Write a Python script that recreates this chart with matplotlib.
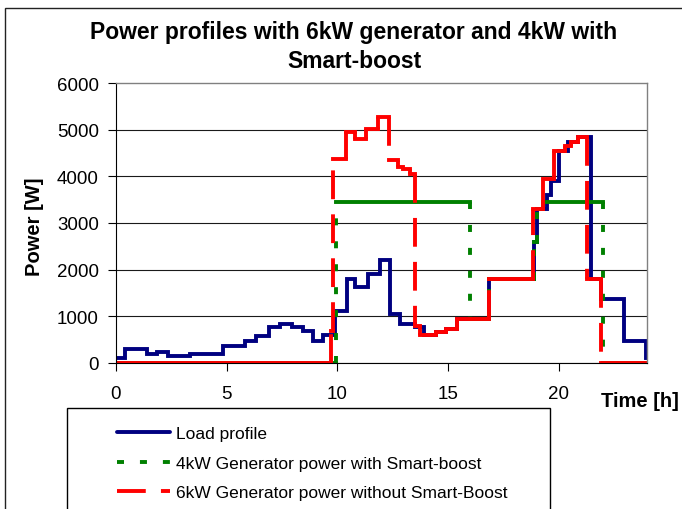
import matplotlib
matplotlib.use("Agg")
import matplotlib.pyplot as plt
from matplotlib.patches import Rectangle
from matplotlib.collections import LineCollection
from matplotlib.lines import Line2D

plt.rcParams['font.family'] = ['Liberation Sans', 'DejaVu Sans']

# load profile, change points (hour, W)
load_h = [0.0, 0.4, 1.4, 1.85, 2.35, 3.35, 4.85, 5.85, 6.35, 6.9, 7.4, 7.95, 8.45, 8.9, 9.35,
          9.9, 10.45, 10.8, 11.4, 11.95, 12.4, 12.85, 13.5, 13.9, 14.45, 14.9, 15.4, 16.85,
          18.9, 19.05, 19.5, 19.65, 20.0, 20.45, 20.9, 21.45, 21.9, 22.95, 23.95, 24.0]
load_w = [100, 310, 200, 230, 140, 200, 370, 470, 580, 770, 840, 770, 690, 470, 590,
          1120, 1800, 1630, 1900, 2200, 1050, 840, 770, 590, 660, 730, 940, 1800,
          2600, 3300, 3600, 3900, 4550, 4730, 4840, 1800, 1370, 480, 100, 100]

# 4kW generator with Smart-boost
gen4_h = [0.0, 9.95, 16.0, 16.85, 18.9, 19.05, 19.3, 22.0, 24.0]
gen4_w = [0, 3450, 940, 1800, 2600, 3300, 3450, 0, 0]

# 6kW generator without Smart-boost
gen6_h = [0.0, 9.7, 9.8, 10.4, 10.8, 11.3, 11.85, 12.35, 12.75, 12.95, 13.3, 13.5, 13.75, 14.45,
          14.9, 15.4, 16.85, 18.85, 19.3, 19.8, 20.3, 20.55, 20.9, 21.3, 21.9, 24.0]
gen6_w = [0, 690, 4370, 4950, 4800, 5010, 5270, 4340, 4200, 4160, 4050, 800, 590, 660,
          730, 940, 1800, 3300, 3940, 4550, 4640, 4730, 4840, 1800, 0, 0]

x_ticks = [0, 5, 10, 15, 20]
y_ticks = [0, 1000, 2000, 3000, 4000, 5000, 6000]


def step_pieces(hours, watts):
    # flat runs and risers apart, so each riser starts its own dash pattern
    flats, risers = [], []
    for i in range(len(hours) - 1):
        flats.append([(hours[i], watts[i]), (hours[i + 1], watts[i])])
        if watts[i + 1] != watts[i]:
            risers.append([(hours[i + 1], watts[i]), (hours[i + 1], watts[i + 1])])
    return flats, risers


def add_dashed(ax, hours, watts, color, dash, lw):
    flats, risers = step_pieces(hours, watts)
    ax.add_collection(LineCollection(flats, colors=color, linewidths=lw, capstyle='projecting'))
    ax.add_collection(LineCollection(risers, colors=color, linewidths=lw,
                                     linestyles=[(0, dash)], capstyle='butt'))


W, H = 682, 510
fig = plt.figure(figsize=(6.82, 5.10), dpi=100)
ax = fig.add_axes([116 / W, 1 - 364 / H, (647 - 116) / W, (364 - 84) / H])

lw = 2.8
green_dash = (1.8, 4.1)
red_dash = (7.4, 3.9)
ax.plot(load_h, load_w, drawstyle='steps-post', color='#000080', lw=lw,
        solid_joinstyle='miter')
add_dashed(ax, gen4_h, gen4_w, '#008000', green_dash, lw)
add_dashed(ax, gen6_h, gen6_w, '#ff0000', red_dash, lw)

ax.set_xlim(0, 24)
ax.set_ylim(0, 6000)
ax.set_xticks(x_ticks)
ax.set_yticks(y_ticks)
ax.yaxis.grid(True, color='#1a1a1a', lw=0.8)
ax.get_ygridlines()[-1].set_visible(False)
ax.set_axisbelow(True)
ax.tick_params(axis='both', direction='out', length=5.8, width=0.8, labelsize=13.5)
ax.tick_params(axis='x', pad=10)
ax.tick_params(axis='y', pad=6.5)
for side in ['top', 'right']:
    ax.spines[side].set_color('#808080')
    ax.spines[side].set_linewidth(1.0)
for side in ['left', 'bottom']:
    ax.spines[side].set_color('black')
    ax.spines[side].set_linewidth(0.8)

fig.text(354 / W, 1 - 47 / H, 'Power profiles with 6kW generator and 4kW with\nSmart-boost',
         ha='center', va='center', fontsize=16.5, fontweight='bold', linespacing=1.3)
fig.text(34 / W, 1 - 227 / H, 'Power [W]', rotation=90, ha='center', va='center',
         fontsize=14.5, fontweight='bold')
fig.text(601 / W, 1 - 402 / H, 'Time [h]', ha='left', va='center',
         fontsize=14.5, fontweight='bold')

# chart border and legend box
fig.add_artist(Rectangle((5 / W, -0.1), 1.0, 1.1 - 9 / H, transform=fig.transFigure,
                         fill=False, edgecolor='#222222', lw=1.0, clip_on=False))
fig.add_artist(Rectangle((67 / W, 1 - 540 / H), (550 - 67) / W, (540 - 409) / H,
                         transform=fig.transFigure, fill=False, edgecolor='black',
                         lw=1.0, clip_on=False))

handles = [
    Line2D([], [], color='#000080', lw=lw, solid_capstyle='round'),
    Line2D([], [], color='#008000', lw=lw, dashes=green_dash, dash_capstyle='butt'),
    Line2D([], [], color='#ff0000', lw=lw, dashes=red_dash, dash_capstyle='butt'),
]
labels = ['Load profile', '4kW Generator power with Smart-boost',
          '6kW Generator power without Smart-Boost']
fig.legend(handles, labels, loc='upper left', bbox_to_anchor=(117 / W, 1 - 427 / H),
           frameon=False, borderpad=0, borderaxespad=0, handlelength=3.06,
           handletextpad=0.35, labelspacing=0.83, fontsize=12.5)

fig.savefig('out.png', dpi=100)
